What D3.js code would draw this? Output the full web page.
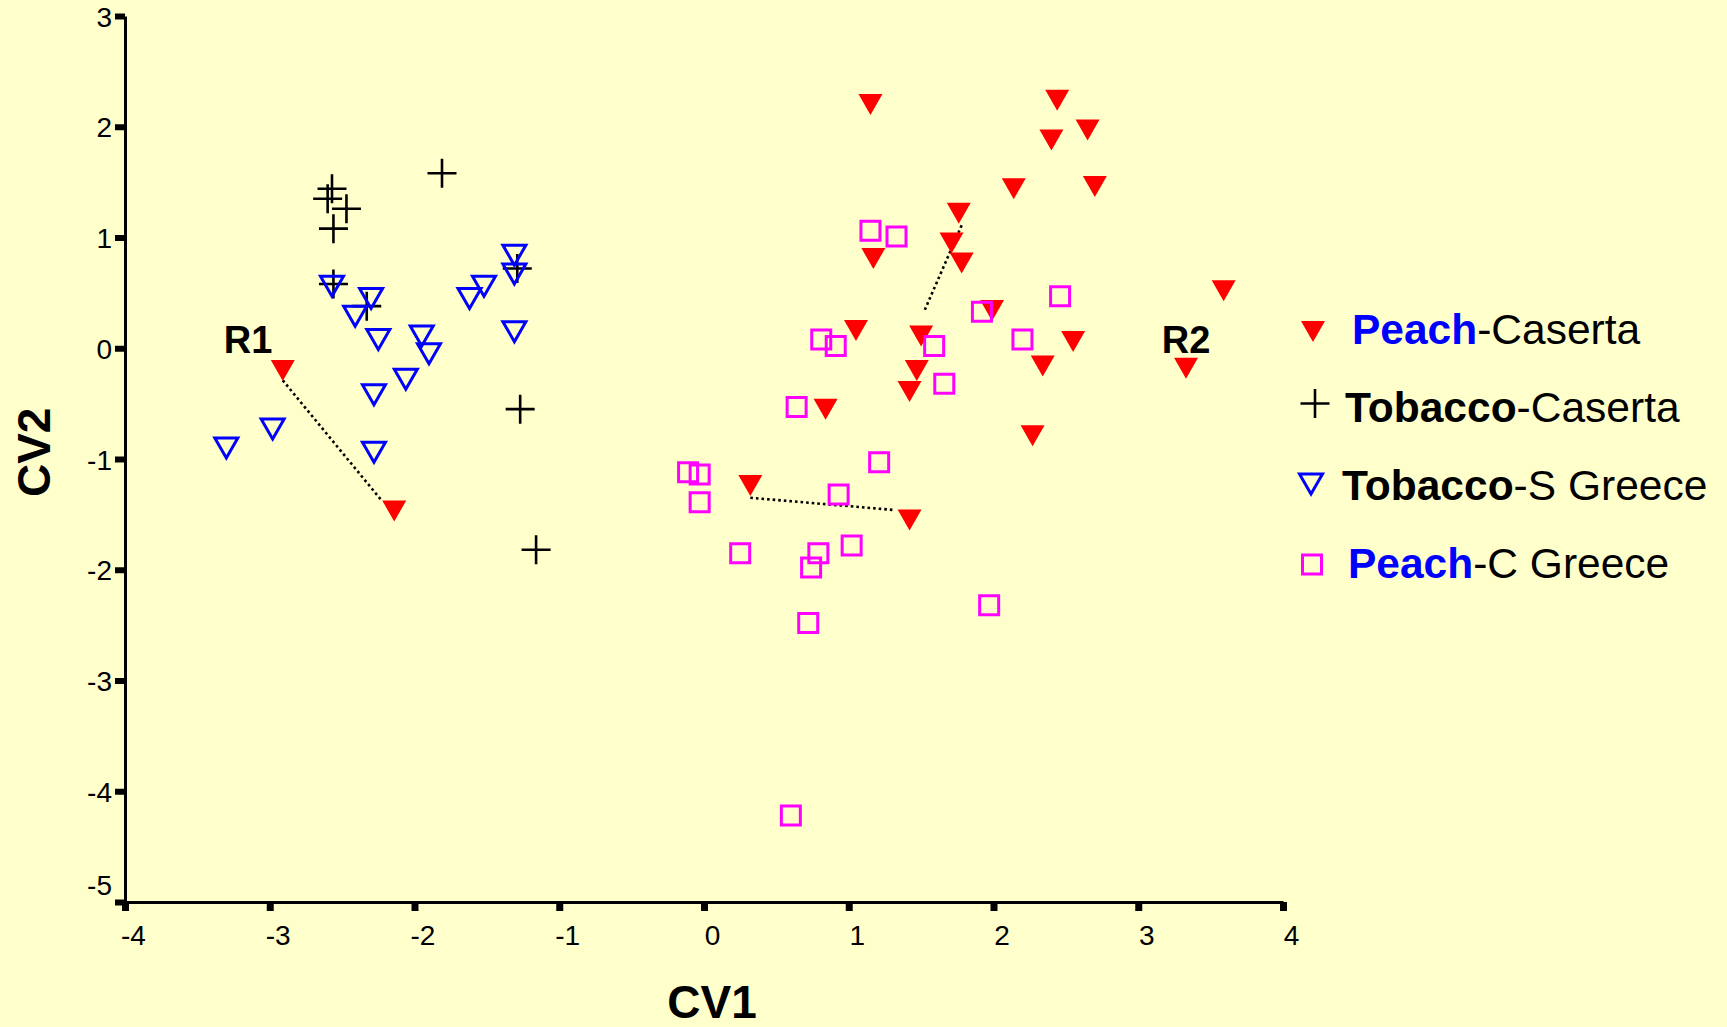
<!DOCTYPE html>
<html>
<head>
<meta charset="utf-8">
<script src="https://cdn.jsdelivr.net/npm/d3@7"></script>
<style>
  body { margin: 0; background: #ffffcc; }
  svg { display: block; font-family: "Liberation Sans", Arial, sans-serif; }
</style>
</head>
<body>
<div id="chart"></div>
<script>
// canonical scores, [CV1, CV2]
const peachCaserta = [
  [-2.91, -0.20], [-2.14, -1.47],
  [1.15, 2.20], [2.44, 2.24], [2.65, 1.97], [2.40, 1.88], [2.14, 1.44], [2.70, 1.46],
  [1.76, 1.22], [1.71, 0.95], [1.78, 0.77], [1.17, 0.81], [3.59, 0.52], [1.99, 0.34],
  [1.05, 0.16], [1.50, 0.11], [2.55, 0.06], [2.34, -0.16], [3.33, -0.18], [1.47, -0.20],
  [1.42, -0.39], [0.84, -0.55], [2.27, -0.79], [0.32, -1.24], [1.42, -1.55]
];
const tobaccoCaserta = [
  [-1.81, 1.58], [-2.57, 1.44], [-2.60, 1.35], [-2.47, 1.26], [-2.56, 1.08],
  [-2.56, 0.58], [-2.33, 0.38], [-1.29, 0.72], [-1.27, -0.55], [-1.16, -1.82]
];
const tobaccoSGreece = [
  [-1.31, 0.84], [-1.31, 0.67], [-1.52, 0.56], [-1.62, 0.45], [-1.31, 0.15],
  [-2.57, 0.56], [-2.30, 0.45], [-2.41, 0.29], [-2.25, 0.08], [-1.95, 0.11],
  [-1.90, -0.05], [-2.06, -0.28], [-2.28, -0.42], [-3.30, -0.90], [-2.98, -0.73], [-2.28, -0.94]
];
const peachCGreece = [
  [1.15, 1.06], [1.33, 1.01], [2.46, 0.47], [1.92, 0.33], [0.81, 0.08], [0.91, 0.02],
  [1.59, 0.02], [2.20, 0.08], [1.66, -0.32], [0.64, -0.53], [1.21, -1.03], [-0.11, -1.12],
  [-0.03, -1.14], [-0.03, -1.39], [0.93, -1.32], [0.25, -1.85], [0.79, -1.85], [0.74, -1.98],
  [1.02, -1.78], [1.97, -2.32], [0.72, -2.48], [0.60, -4.22]
];
// dotted links between paired samples
const links = [
  [[-2.91, -0.29], [-2.23, -1.37]],
  [[0.32, -1.35], [1.31, -1.46]],
  [[1.78, 1.11], [1.52, 0.33]]
];
const regionLabels = [["R1", -3.15, -0.04], ["R2", 3.33, -0.04]];
const xTicks = [-4, -3, -2, -1, 0, 1, 2, 3, 4];
const yTicks = [3, 2, 1, 0, -1, -2, -3, -4, -5];
const legendBold = ["Peach", "Tobacco", "Tobacco", "Peach"];
const legendRest = ["-Caserta", "-Caserta", "-S Greece", "-C Greece"];

const margin = { top: 16, right: 444, bottom: 125, left: 125 };
const width = 1727 - margin.left - margin.right;
const height = 1027 - margin.top - margin.bottom;

const xScale = d3.scaleLinear().domain([-4, 4]).range([0, width]);
const yScale = d3.scaleLinear().domain([-5, 3]).range([height, 0]);

// symbol paths, centred on their bounding box
const triDown = (w, h) => `M${-w / 2},${-h / 2}L${w / 2},${-h / 2}L0,${h / 2}Z`;
const square = s => `M${-s / 2},${-s / 2}h${s}v${s}h${-s}Z`;
const plus = s => `M${-s / 2},0H${s / 2}M0,${-s / 2}V${s / 2}`;

const styles = [
  { path: triDown(24, 21), fill: "#ff0000", stroke: "none", sw: 0 },
  { path: plus(29), fill: "none", stroke: "#000000", sw: 2.6 },
  { path: triDown(23, 20), fill: "none", stroke: "#0000ff", sw: 3 },
  { path: square(19), fill: "none", stroke: "#ff00ff", sw: 3 }
];
const series = [peachCaserta, tobaccoCaserta, tobaccoSGreece, peachCGreece];

const root = d3.select("#chart")
  .append("svg")
  .attr("width", 1727)
  .attr("height", 1027);

root.append("rect")
  .attr("width", 1727)
  .attr("height", 1027)
  .attr("fill", "#ffffcc");

const svg = root.append("g")
  .attr("transform", "translate(" + margin.left + "," + margin.top + ")");

// axes
const xAxis = d3.axisBottom(xScale)
  .tickValues(xTicks)
  .tickFormat(d => String(d))
  .tickSizeInner(9)
  .tickSizeOuter(0)
  .tickPadding(14);

const yAxis = d3.axisLeft(yScale)
  .tickValues(yTicks)
  .tickFormat(d => String(d))
  .tickSizeInner(10)
  .tickSizeOuter(0)
  .tickPadding(3);

const gx = svg.append("g")
  .attr("transform", "translate(0," + height + ")")
  .call(xAxis);
gx.select(".domain").attr("stroke-width", 3);
gx.selectAll(".tick line").attr("stroke-width", 7);
gx.selectAll(".tick text")
  .attr("font-size", 28)
  .attr("font-family", "Liberation Sans, Arial, sans-serif")
  .attr("dx", 8)
  .attr("fill", "#000");

const gy = svg.append("g").call(yAxis);
gy.select(".domain").attr("stroke-width", 3);
gy.selectAll(".tick line").attr("stroke-width", 6);
gy.selectAll(".tick text")
  .attr("font-size", 28)
  .attr("font-family", "Liberation Sans, Arial, sans-serif")
  .attr("fill", "#000")
  .attr("dy", d => d === -5 ? "-0.28em" : "0.36em");

// axis titles
svg.append("text")
  .attr("x", xScale(0) + 8)
  .attr("y", height + 116)
  .attr("text-anchor", "middle")
  .attr("font-size", 46)
  .attr("font-weight", "bold")
  .text("CV1");

svg.append("text")
  .attr("transform", "translate(" + (-75) + "," + yScale(-0.94) + ") rotate(-90)")
  .attr("text-anchor", "middle")
  .attr("font-size", 46)
  .attr("font-weight", "bold")
  .text("CV2");

// dotted links
svg.selectAll(".link")
  .data(links)
  .enter()
  .append("line")
  .attr("class", "link")
  .attr("x1", d => xScale(d[0][0]))
  .attr("y1", d => yScale(d[0][1]))
  .attr("x2", d => xScale(d[1][0]))
  .attr("y2", d => yScale(d[1][1]))
  .attr("stroke", "#000")
  .attr("stroke-width", 2.6)
  .attr("stroke-dasharray", "2.6,3");

// points
series.forEach((pts, i) => {
  const st = styles[i];
  svg.append("g")
    .selectAll("path")
    .data(pts)
    .enter()
    .append("path")
    .attr("d", st.path)
    .attr("transform", d => "translate(" + xScale(d[0]) + "," + yScale(d[1]) + ")")
    .attr("fill", st.fill)
    .attr("stroke", st.stroke)
    .attr("stroke-width", st.sw);
});

// R1 / R2
svg.selectAll(".region")
  .data(regionLabels)
  .enter()
  .append("text")
  .attr("class", "region")
  .attr("x", d => xScale(d[1]))
  .attr("y", d => yScale(d[2]))
  .attr("text-anchor", "middle")
  .attr("font-size", 38)
  .attr("font-weight", "bold")
  .text(d => d[0]);

// legend
const legendX = [1352, 1345, 1342, 1348];
const symDy = [-12.5, -18.5, -16, -13.5];
const symX = [1313, 1315, 1311, 1312];
const legend = root.append("g");
legendBold.forEach((b, i) => {
  const y = 344 + i * 78;
  const st = styles[i];
  legend.append("path")
    .attr("d", st.path)
    .attr("transform", "translate(" + symX[i] + "," + (y + symDy[i]) + ")")
    .attr("fill", st.fill)
    .attr("stroke", st.stroke)
    .attr("stroke-width", st.sw);
  const t = legend.append("text")
    .attr("x", legendX[i])
    .attr("y", y)
    .attr("font-size", 42.5);
  t.append("tspan")
    .attr("font-weight", "bold")
    .attr("fill", b === "Peach" ? "#0000ff" : "#000")
    .text(b);
  t.append("tspan")
    .attr("fill", "#000")
    .text(legendRest[i]);
});
</script>
</body>
</html>
